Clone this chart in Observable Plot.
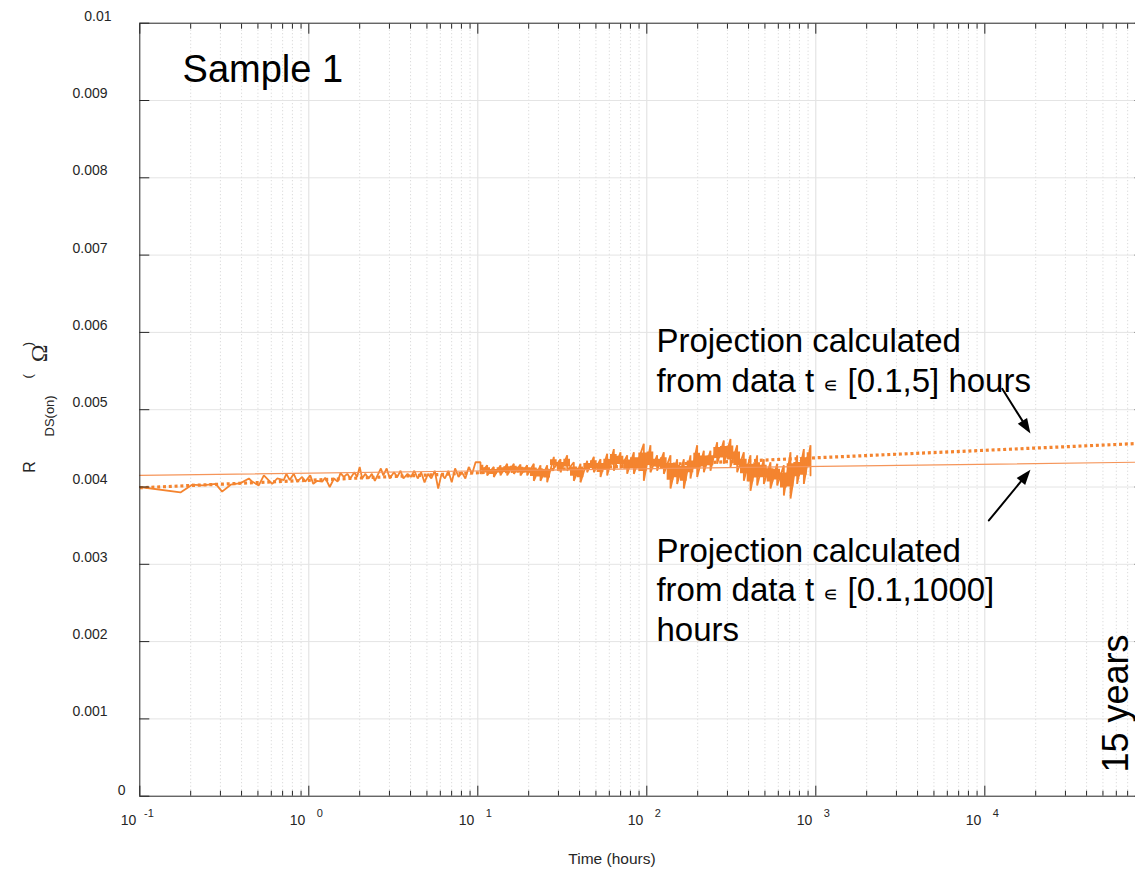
<!DOCTYPE html>
<html>
<head>
<meta charset="utf-8">
<script src="https://cdn.jsdelivr.net/npm/d3@7"></script>
<script src="https://cdn.jsdelivr.net/npm/@observablehq/plot@0.6"></script>
<style>
  html, body { margin: 0; padding: 0; background: #fff; overflow: hidden; }
  #chart { width: 1135px; height: 869px; overflow: hidden; }
</style>
</head>
<body>
<div id="chart"></div>
<script>
// On-resistance of Sample 1 versus time (log scale), with two log-time projections.

// Measured trace, sparse early part (hours, ohms)
const earlyTime = [0.1, 0.174, 0.204, 0.234, 0.281, 0.307, 0.345, 0.395, 0.442, 0.462,
  0.506, 0.542, 0.607, 0.650, 0.710, 0.737, 0.771, 0.815, 0.854, 0.913,
  0.953, 1.02, 1.063, 1.12, 1.20, 1.25, 1.33, 1.41, 1.48, 1.54,
  1.61, 1.69, 1.76, 1.86, 1.93, 2.00, 2.07, 2.16, 2.26, 2.36,
  2.46, 2.67, 2.76, 2.89, 3.01, 3.19, 3.34, 3.49, 3.63, 3.84,
  4.02, 4.21, 4.41, 4.62, 4.84, 5.07, 5.31, 5.56, 5.83, 6.10,
  6.39, 6.69, 7.01, 7.34, 7.69, 8.06, 8.44, 8.84, 9.26, 9.70];
const earlyRds = [0.00400, 0.00393, 0.00403, 0.00402, 0.00404, 0.00394, 0.00403, 0.00405, 0.00411, 0.00407,
  0.00402, 0.00415, 0.00404, 0.00411, 0.00409, 0.00417, 0.00409, 0.00417, 0.00407, 0.00413,
  0.00407, 0.00415, 0.00404, 0.00408, 0.00407, 0.00412, 0.00400, 0.00411, 0.00407, 0.00418,
  0.00413, 0.00417, 0.00411, 0.00419, 0.00413, 0.00426, 0.00411, 0.00417, 0.00411, 0.00417,
  0.00408, 0.00424, 0.00415, 0.00424, 0.00411, 0.00419, 0.00413, 0.00421, 0.00411, 0.00417,
  0.00413, 0.00421, 0.00411, 0.00419, 0.00406, 0.00417, 0.00411, 0.00421, 0.00398, 0.00417,
  0.00411, 0.00421, 0.00406, 0.00424, 0.00413, 0.00419, 0.00411, 0.00426, 0.00417, 0.00432];

// Measured trace, dense part: per-bin high and low readings
const binTime = [10.37, 11.36, 12.44, 13.62, 14.92, 16.34, 17.89, 19.59, 21.45, 23.49,
  25.73, 28.18, 30.86, 33.79, 37.00, 40.52, 44.38, 48.60, 53.22, 58.28,
  63.82, 69.89, 76.54, 83.82, 96.0, 105.1, 115.1, 126.1, 138.1, 151.2,
  165.6, 181.3, 198.6, 217.5, 238.1, 260.8, 285.6, 312.7, 342.5, 375.1,
  410.7, 449.8, 492.6, 539.4, 590.7, 646.9, 708.4, 775.8, 849.6, 930.4];
const binHigh = [0.00432, 0.00428, 0.00426, 0.00428, 0.00430, 0.00430, 0.00429, 0.00428, 0.00430, 0.00428,
  0.00428, 0.00439, 0.00436, 0.00441, 0.00432, 0.00430, 0.00434, 0.00439, 0.00436, 0.00443,
  0.00449, 0.00445, 0.00441, 0.00445, 0.00456, 0.00454, 0.00441, 0.00445, 0.00441, 0.00436,
  0.00436, 0.00441, 0.00454, 0.00447, 0.00447, 0.00458, 0.00460, 0.00462, 0.00454, 0.00445,
  0.00441, 0.00441, 0.00436, 0.00432, 0.00430, 0.00428, 0.00445, 0.00441, 0.00449, 0.00454];
const binLow = [0.00417, 0.00415, 0.00413, 0.00415, 0.00415, 0.00417, 0.00415, 0.00415, 0.00408, 0.00408,
  0.00406, 0.00424, 0.00419, 0.00421, 0.00408, 0.00406, 0.00419, 0.00419, 0.00413, 0.00415,
  0.00421, 0.00424, 0.00417, 0.00417, 0.00408, 0.00419, 0.00421, 0.00417, 0.00398, 0.00404,
  0.00398, 0.00411, 0.00413, 0.00419, 0.00421, 0.00430, 0.00430, 0.00426, 0.00419, 0.00408,
  0.00395, 0.00402, 0.00404, 0.00398, 0.00402, 0.00389, 0.00385, 0.00404, 0.00404, 0.00415];

// Projections (straight lines in log time)
const fitShortTime = [0.1, 87600];      // fitted on t in [0.1, 5] h
const fitShortRds = [0.00399, 0.004566];
const fitLongTime = [0.1, 87600];       // fitted on t in [0.1, 1000] h
const fitLongRds = [0.00415, 0.004322];

// Axis ticks
const decades = [0.1, 1, 10, 100, 1000, 10000];
const decadeExponents = ["-1", "0", "1", "2", "3", "4"];
const minorSteps = [2, 3, 4, 5, 6, 7, 8, 9];
const yTicks = [0, 0.001, 0.002, 0.003, 0.004, 0.005, 0.006, 0.007, 0.008, 0.009, 0.01];
const yTickLabels = ["0", "0.001", "0.002", "0.003", "0.004", "0.005", "0.006", "0.007", "0.008", "0.009", "0.01"];

// Annotations
const sampleTitle = ["Sample 1"];
const noteShort = "Projection calculated\nfrom data t \u220A [0.1,5] hours";
const noteLong = "Projection calculated\nfrom data t \u220A [0.1,1000]\nhours";
const noteTime = 114;
const noteShortRds = 0.005235;
const noteLongRds = 0.002014;
const yearsLabel = "15 years";
const arrowStartTime = [12680, 10570];
const arrowStartRds = [0.005270, 0.003567];
const arrowEndTime = [18620, 18620];
const arrowEndRds = [0.004692, 0.004222];

// ---- build tables ----
const trace = earlyTime.map((t, i) => ({t, v: earlyRds[i]}));
binTime.forEach((t, i) => { trace.push({t, v: binHigh[i]}); trace.push({t, v: binLow[i]}); });
const bins = binTime.map((t, i) => ({t, hi: binHigh[i], lo: binLow[i]}));
const minorTicks = decades.flatMap(d => minorSteps.map(k => k * d)).filter(t => t < 87600);
const fitShort = fitShortTime.map((t, i) => ({t, v: fitShortRds[i]}));
const fitLong = fitLongTime.map((t, i) => ({t, v: fitLongRds[i]}));
const arrows = arrowStartTime.map((t, i) => ({t1: t, v1: arrowStartRds[i], t2: arrowEndTime[i], v2: arrowEndRds[i]}));

const W = 1135, H = 869;
const frameLeft = 139.3, frameRight = 1143.6, frameTop = 22.7, frameBottom = 795.7;
const xOpts = {type: "log", domain: [0.1, 87600], range: [frameLeft, frameRight]};
const yOpts = {type: "linear", domain: [0, 0.01], range: [frameBottom, frameTop]};
const xs = Plot.scale({x: xOpts});
const ys = Plot.scale({y: yOpts});

// Filled triangular arrowhead with its tip at the anchor point
function headSymbol(a) {
  const L = 15, Wd = 11, c = Math.cos(a), s = Math.sin(a);
  return {draw(ctx) {
    ctx.moveTo(0, 0);
    ctx.lineTo(-L * c + Wd / 2 * s, -L * s - Wd / 2 * c);
    ctx.lineTo(-L * c - Wd / 2 * s, -L * s + Wd / 2 * c);
    ctx.closePath();
  }};
}
const heads = arrows.map(d => headSymbol(Math.atan2(ys.apply(d.v2) - ys.apply(d.v1), xs.apply(d.t2) - xs.apply(d.t1))));

const orange = "#f4842f";
const ink = "#262626";
const sans = "Liberation Sans, Arial, Helvetica, sans-serif";
const core = 0.25; // share of each bin's spread left to the spikes on either side

const chart = Plot.plot({
  width: W,
  height: H,
  marginLeft: frameLeft,
  marginRight: W - frameRight,
  marginTop: frameTop,
  marginBottom: H - frameBottom,
  style: {fontFamily: sans, background: "#fff", overflow: "hidden"},
  x: {...xOpts, axis: null},
  y: {...yOpts, axis: null},
  marks: [
    // grid
    Plot.ruleX(minorTicks, {stroke: "#c8c8c8", strokeDasharray: "1,2.5", strokeWidth: 0.8}),
    Plot.ruleX(decades.slice(1), {stroke: "#dedede"}),
    Plot.ruleY(yTicks.slice(1, -1), {stroke: "#e4e4e4"}),
    // projections and measurement
    Plot.line(fitShort, {x: "t", y: "v", stroke: orange, strokeWidth: 3.2, strokeDasharray: "3,2.8", strokeLinecap: "butt"}),
    Plot.areaY(bins, {x: "t", y1: d => d.lo + core * (d.hi - d.lo), y2: d => d.hi - core * (d.hi - d.lo), fill: orange, curve: "step"}),
    Plot.line(trace, {x: "t", y: "v", stroke: orange, strokeWidth: 1.8, strokeLinejoin: "miter"}),
    Plot.line(fitLong, {x: "t", y: "v", stroke: "#f5955a", strokeWidth: 1.2}),
    // box and inward ticks
    Plot.frame({stroke: ink, strokeWidth: 1}),
    Plot.axisY({anchor: "left", ticks: yTicks, tickSize: -10, tickFormat: () => "", label: null, stroke: ink}),
    Plot.axisY({anchor: "right", ticks: yTicks, tickSize: -10, tickFormat: () => "", label: null, stroke: ink}),
    Plot.axisX({anchor: "bottom", ticks: decades, tickSize: -10, tickFormat: () => "", label: null, stroke: ink}),
    Plot.axisX({anchor: "bottom", ticks: minorTicks, tickSize: -5, tickFormat: () => "", label: null, stroke: ink}),
    Plot.axisX({anchor: "top", ticks: decades, tickSize: -10, tickFormat: () => "", label: null, stroke: ink}),
    Plot.axisX({anchor: "top", ticks: minorTicks, tickSize: -5, tickFormat: () => "", label: null, stroke: ink}),
    // y tick labels
    Plot.text(yTicks.slice(1, -1), {y: d => d, text: (d, i) => yTickLabels[i + 1], frameAnchor: "left", textAnchor: "end", dx: -32.3, dy: -7, fontSize: 14, fill: ink}),
    Plot.text([yTicks[10]], {y: d => d, text: () => yTickLabels[10], frameAnchor: "left", textAnchor: "end", dx: -28.3, dy: -7, fontSize: 14, fill: ink}),
    Plot.text([yTicks[0]], {y: d => d, text: () => yTickLabels[0], frameAnchor: "left", textAnchor: "end", dx: -14.3, dy: -6, fontSize: 14, fill: ink}),
    // x tick labels: 10 with superscript exponent
    Plot.text(decades, {x: d => d, text: () => "10", frameAnchor: "bottom", textAnchor: "end", lineAnchor: "bottom", dx: -3.5, dy: 29, fontSize: 14, fill: ink}),
    Plot.text(decades, {x: d => d, text: (d, i) => decadeExponents[i], frameAnchor: "bottom", textAnchor: "end", lineAnchor: "bottom", dx: 14, dy: 21, fontSize: 11, fill: ink}),
    // axis titles
    Plot.text(["Time (hours)"], {text: d => d, frameAnchor: "bottom", lineAnchor: "bottom", dx: -30, dy: 67.5, fontSize: 15.5, fill: ink}),
    Plot.text(["R"], {text: d => d, frameAnchor: "left", rotate: -90, dx: -110.3, dy: 63, fontSize: 16, fill: ink}),
    Plot.text(["DS(on)"], {text: d => d, frameAnchor: "left", rotate: -90, dx: -90.3, dy: 26.8, fontSize: 13, fill: ink}),
    Plot.text(["("], {text: d => d, frameAnchor: "left", rotate: -90, dx: -111.8, dy: -31.2, fontSize: 13, fill: ink}),
    Plot.text(["\u03A9"], {text: d => d, frameAnchor: "left", rotate: -90, dx: -100.3, dy: -47.5, fontSize: 24, fontFamily: "Liberation Serif, serif", fill: ink}),
    Plot.text([")"], {text: d => d, frameAnchor: "left", rotate: -90, dx: -111.8, dy: -63.5, fontSize: 13, fill: ink}),
    // annotations
    Plot.text(sampleTitle, {x: 0.179, y: 0.009233, text: d => d, textAnchor: "start", lineAnchor: "bottom", fontSize: 38, fill: "#000"}),
    Plot.text([noteShort], {x: noteTime, y: noteShortRds, text: d => d, textAnchor: "start", lineAnchor: "bottom", lineHeight: 1.197, fontSize: 33, fill: "#000"}),
    Plot.text([noteLong], {x: noteTime, y: noteLongRds, text: d => d, textAnchor: "start", lineAnchor: "bottom", lineHeight: 1.197, fontSize: 33, fill: "#000"}),
    Plot.text([yearsLabel], {x: 70000, y: 0.001199, text: d => d, rotate: -90, textAnchor: "middle", lineAnchor: "bottom", fontSize: 36, fill: "#000"}),
    Plot.arrow(arrows, {x1: "t1", y1: "v1", x2: "t2", y2: "v2", stroke: "#000", strokeWidth: 2, headLength: 0, insetEnd: 9}),
    Plot.dot([arrows[0]], {x: "t2", y: "v2", symbol: heads[0], r: 6, fill: "#000", stroke: "none"}),
    Plot.dot([arrows[1]], {x: "t2", y: "v2", symbol: heads[1], r: 6, fill: "#000", stroke: "none"})
  ]
});

// Set the membership sign in the notes smaller than the surrounding text
const SVGNS = "http://www.w3.org/2000/svg";
chart.querySelectorAll("text, tspan").forEach(el => {
  if (el.childNodes.length === 1 && el.firstChild.nodeType === 3 && el.firstChild.data.includes("\u220A")) {
    const [before, after] = el.firstChild.data.split("\u220A");
    el.textContent = "";
    const sign = document.createElementNS(SVGNS, "tspan");
    sign.setAttribute("font-size", "21");
    sign.textContent = "\u220A";
    el.append(before, sign, after);
  }
});

document.getElementById("chart").appendChild(chart);
</script>
</body>
</html>
